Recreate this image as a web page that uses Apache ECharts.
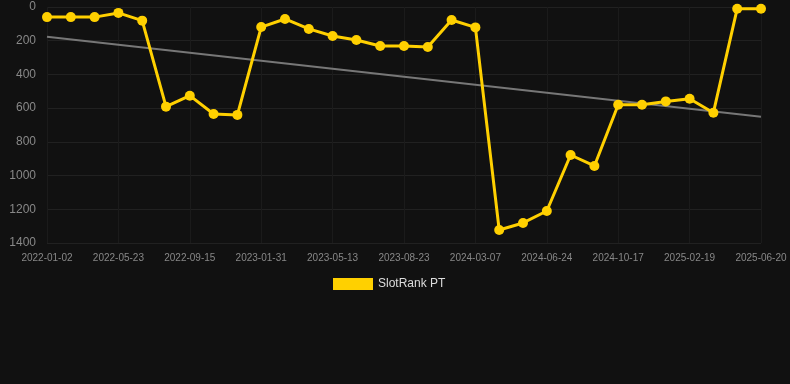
<!DOCTYPE html>
<html>
<head>
<meta charset="utf-8">
<script src="https://cdn.jsdelivr.net/npm/echarts@6/dist/echarts.min.js"></script>
<style>
html,body{margin:0;padding:0;background:#111111;}
#chart{width:790px;height:384px;}
</style>
</head>
<body>
<div id="chart"></div>
<script>
var dates = ['2022-01-02','2022-02-18','2022-04-06','2022-05-23','2022-06-30','2022-08-07','2022-09-15','2022-10-31','2022-12-16','2023-01-31','2023-03-06','2023-04-09','2023-05-13','2023-06-16','2023-07-20','2023-08-23','2023-10-28','2024-01-02','2024-03-07','2024-04-12','2024-05-18','2024-06-24','2024-08-01','2024-09-09','2024-10-17','2024-11-28','2025-01-08','2025-02-19','2025-04-01','2025-05-11','2025-06-20'];
var rankValues = [60,60,60,35,81,591,526,635,640,119,71,130,172,196,231,231,237,77,121,1323,1281,1210,878,943,580,580,560,544,627,10,10];
var trendStart = 176;
var trendEnd = 651;
var yTicks = {min:0, max:1400, interval:200};

var chart = echarts.init(document.getElementById('chart'));
chart.setOption({
  backgroundColor:'#111111',
  animation:false,
  grid:{left:47, right:29, top:7, bottom:141, containLabel:false},
  legend:{
    data:['SlotRank PT'],
    top:273, left:328,
    icon:'rect', itemWidth:40, itemHeight:12, itemGap:10,
    textStyle:{color:'#dddddd', fontSize:12, fontFamily:'Liberation Sans, Arial, sans-serif'}
  },
  xAxis:{
    type:'category', data:dates, boundaryGap:false,
    axisLine:{show:false}, axisTick:{show:false},
    axisLabel:{interval:2, color:'#888888', fontSize:10, margin:10, fontFamily:'Liberation Sans, Arial, sans-serif'},
    splitLine:{show:true, interval:2, lineStyle:{color:'#1b1b1b', width:1}}
  },
  yAxis:{
    type:'value', inverse:true, min:yTicks.min, max:yTicks.max, interval:yTicks.interval,
    axisLine:{show:false}, axisTick:{show:false},
    axisLabel:{color:'#888888', fontSize:12, margin:11, fontFamily:'Liberation Sans, Arial, sans-serif',
      formatter:function(v){return String(v);}},
    splitLine:{show:true, lineStyle:{color:'#212121', width:1}}
  },
  series:[
    {
      name:'Trend', type:'line', data:[[dates[0],trendStart],[dates[dates.length-1],trendEnd]],
      symbol:'none', lineStyle:{color:'#777777', width:2}, silent:true, z:1
    },
    {
      name:'SlotRank PT', type:'line', data:rankValues,
      symbol:'circle', symbolSize:10,
      itemStyle:{color:'#FFD000'},
      lineStyle:{color:'#FFD000', width:3}, z:2
    }
  ]
});
</script>
</body>
</html>
